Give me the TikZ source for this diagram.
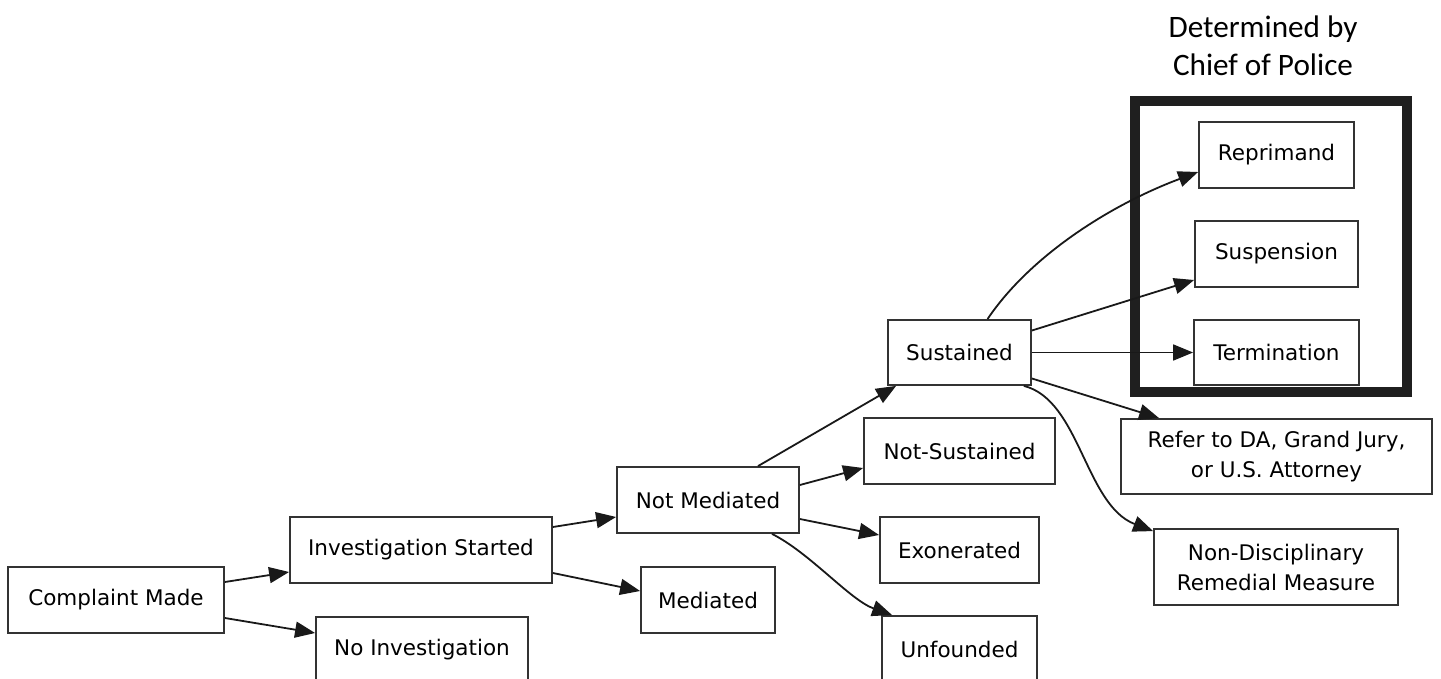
\documentclass[tikz,border=0pt]{standalone}
\usepackage{fontspec}
\setmainfont{DejaVu Sans}
\newfontfamily\calib{Carlito}
\usetikzlibrary{arrows.meta,calc}
\begin{document}
\begin{tikzpicture}[x=0.5pt,y=-0.5pt,
  box/.style={draw=black!80,line width=0.9pt,inner sep=0pt,minimum height=33pt,align=center,font=\fontsize{10.75}{15}\selectfont},
  arr/.style={line width=0.9pt,draw=black!90,-{Triangle[length=10pt,width=8pt]}},
  frame/.style={draw=black!88,line width=5pt}]
\useasboundingbox (0,0) rectangle (1441,679);
% title
\node[font=\calib\fontsize{15.6}{19}\selectfont,align=center] (title) at (1263,46) {Determined by\\Chief of Police};
\draw[frame] (1135,101) rectangle (1407,392);
% nodes
\node[box,minimum width=108pt] (cm) at (116,600) {Complaint Made};
\node[box,minimum width=131pt] (is) at (421,550) {Investigation Started};
\node[box,minimum width=106pt] (ni) at (422,650) {No Investigation};
\node[box,minimum width=91pt] (nm) at (708,500) {Not Mediated};
\node[box,minimum width=67pt] (med) at (708,600) {Mediated};
\node[box,minimum width=71.5pt,minimum height=32.5pt] (sus) at (959.5,352.5) {Sustained};
\node[box,minimum width=95.5pt] (ns) at (959.5,451) {Not-Sustained};
\node[box,minimum width=79.5pt] (ex) at (959.5,550) {Exonerated};
\node[box,minimum width=77.5pt] (unf) at (959.5,649) {Unfounded};
\node[box,minimum width=77.5pt] (rep) at (1276.5,155) {Reprimand};
\node[box,minimum width=81.5pt] (susp) at (1276.5,254) {Suspension};
\node[box,minimum width=82.5pt,minimum height=32.5pt] (term) at (1276.5,352.5) {Termination};
\node[box,minimum width=155.5pt,minimum height=37.5pt] (ref) at (1276.5,456.5) {Refer to DA, Grand Jury,\\or U.S. Attorney};
\node[box,minimum width=122pt,minimum height=38pt] (nd) at (1276,567) {Non-Disciplinary\\Remedial Measure};
% edges
\draw[arr] ($(cm.east)+(0,-18)$) -- ($(is.west)+(0,22)$);
\draw[arr] ($(cm.east)+(0,18)$) -- ($(ni.west)+(0,-17)$);
\draw[arr] ($(is.east)+(0,-23)$) -- ($(nm.west)+(0,17)$);
\draw[arr] ($(is.east)+(0,23)$) -- ($(med.west)+(0,-9)$);
\draw[arr] ($(nm.north)+(50,0)$) -- ($(sus.south west)+(9,0)$);
\draw[arr] ($(nm.east)+(0,-15)$) -- ($(ns.west)+(0,17)$);
\draw[arr] ($(nm.east)+(0,19)$) -- ($(ex.west)+(0,-15)$);
\draw[arr] ($(nm.south)+(64,0)$) .. controls (810,553) and (850,600) .. ($(unf.north west)+(11,0)$);
\draw[arr] ($(sus.north)+(28,0)$) .. controls (1030,256) and (1110,205) .. ($(rep.west)+(0,17)$);
\draw[arr] ($(sus.east)+(0,-22)$) -- ($(susp.west)+(0,26)$);
\draw[arr] (sus.east) -- (term.west);
\draw[arr] ($(sus.east)+(0,26)$) -- ($(ref.north west)+(39,0)$);
\draw[arr] ($(sus.south east)+(-8,0)$) .. controls (1080,400) and (1085,505) .. ($(nd.north west)+(0,3)$);
\end{tikzpicture}
\end{document}
